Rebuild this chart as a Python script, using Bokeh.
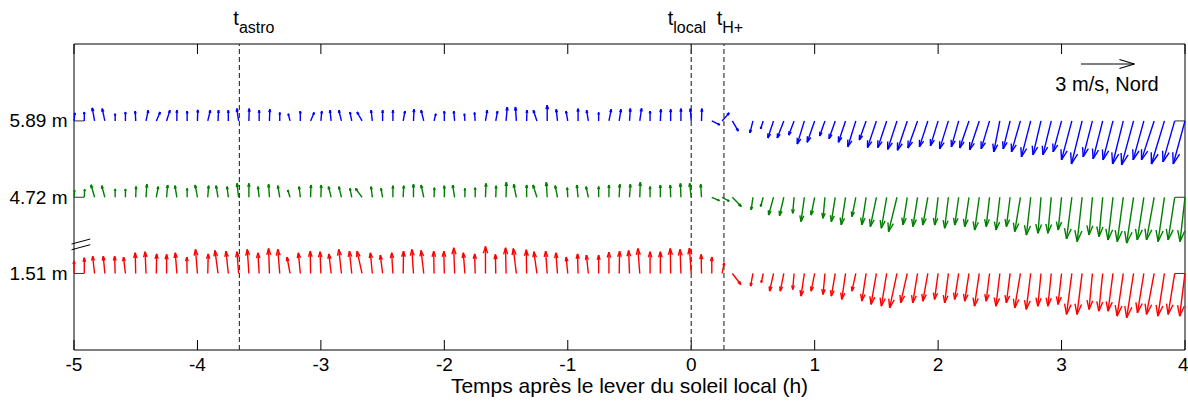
import math
import numpy as np
from bokeh.plotting import figure
from bokeh.models import FixedTicker, Label, Arrow, Range1d
from bokeh.embed import file_html
from bokeh.resources import INLINE

nan = float("nan")

# ---------------- data ----------------
# sampling: every 5 minutes from -5 h to +4 h after local sunrise
minutes = np.arange(-300, 241, 5)
times = minutes / 60.0

heights = ["1.51 m", "4.72 m", "5.89 m"]
event_names = ["astro", "local", "H+"]
event_times = [-3.66, 0.0, 0.265]

# wind components (m/s): u = horizontal component, v = vertical component
blue_u = [
    0.05, 0.00, -0.13, -0.15, 0.00, 0.00, -0.03, 0.13, 0.22, 0.19,
    0.00, 0.00, 0.02, 0.15, 0.03, 0.00, -0.10, 0.02, 0.00, 0.02,
    0.00, -0.10, 0.00, 0.20, 0.05, -0.07, -0.15, -0.10, -0.28, -0.07,
    0.00, 0.00, 0.10, 0.03, -0.15, 0.10, 0.00, -0.05, -0.03, -0.04,
    0.10, 0.10, 0.07, -0.05, 0.02, -0.20, 0.00, -0.07, -0.10, 0.00,
    -0.10, 0.00, 0.13, 0.10, 0.05, 0.10, 0.00, 0.03, 0.00, 0.00,
    -0.05, 0.02, 0.45, 0.40, 0.33, nan, -0.17, -0.15, -0.32, -0.37,
    -0.30, -0.40, -0.42, -0.30, -0.35, -0.40, -0.45, -0.38, -0.50, -0.50,
    -0.52, -0.55, -0.54, -0.47, -0.43, -0.49, -0.41, -0.52, -0.54, -0.47,
    -0.34, -0.39, -0.50, -0.52, -0.45, -0.47, -0.47, -0.58, -0.60, -0.52,
    -0.54, -0.56, -0.60, -0.67, -0.60, -0.71, -0.73, -0.66, -0.66,
]
blue_v = [
    0.45, 0.50, 0.73, 0.69, 0.40, 0.50, 0.55, 0.60, 0.50, 0.60,
    0.60, 0.55, 0.62, 0.60, 0.60, 0.60, 0.69, 0.69, 0.60, 0.65,
    0.47, 0.40, 0.55, 0.47, 0.55, 0.60, 0.60, 0.50, 0.50, 0.60,
    0.60, 0.60, 0.55, 0.65, 0.60, 0.40, 0.55, 0.55, 0.40, 0.47,
    0.60, 0.55, 0.78, 0.78, 0.60, 0.60, 0.88, 0.65, 0.55, 0.69,
    0.60, 0.47, 0.65, 0.65, 0.69, 0.70, 0.55, 0.65, 0.65, 0.69,
    0.69, 0.69, -0.22, 0.45, -0.57, nan, -0.67, -0.45, -0.96, -0.96,
    -0.80, -1.30, -1.20, -0.85, -1.00, -1.20, -1.45, -1.07, -1.50, -1.50,
    -1.60, -1.65, -1.52, -1.46, -1.40, -1.57, -1.46, -1.52, -1.63, -1.57,
    -1.74, -1.57, -1.74, -2.02, -1.91, -1.91, -1.74, -2.19, -2.42, -2.02,
    -2.13, -2.19, -2.42, -2.47, -2.19, -2.19, -2.42, -2.30, -2.42,
]
green_u = [
    0.03, 0.02, -0.20, -0.18, 0.00, 0.00, 0.02, 0.05, 0.11, 0.06,
    -0.11, 0.00, -0.13, 0.05, -0.11, -0.07, -0.09, 0.00, -0.07, -0.05,
    -0.11, -0.13, -0.07, 0.02, 0.02, -0.15, -0.15, -0.10, -0.37, -0.07,
    -0.09, 0.00, 0.03, 0.00, -0.15, 0.02, 0.00, -0.11, 0.00, 0.00,
    0.03, 0.02, 0.02, -0.15, 0.00, -0.22, -0.05, -0.13, -0.03, -0.07,
    -0.13, 0.00, 0.00, 0.03, 0.05, 0.03, 0.00, 0.00, -0.02, -0.03,
    -0.09, -0.05, 0.43, 0.40, 0.50, nan, -0.10, -0.15, -0.28, -0.24,
    -0.08, -0.19, -0.20, -0.11, -0.22, -0.24, -0.22, -0.24, -0.34, -0.30,
    -0.47, -0.24, -0.26, -0.28, -0.19, -0.21, -0.22, -0.24, -0.26, -0.19,
    -0.21, -0.21, -0.32, -0.24, -0.17, -0.19, -0.19, -0.30, -0.28, -0.19,
    -0.21, -0.28, -0.34, -0.39, -0.37, -0.43, -0.36, -0.37, -0.28,
]
green_v = [
    0.40, 0.45, 0.70, 0.65, 0.47, 0.47, 0.60, 0.73, 0.60, 0.69,
    0.65, 0.50, 0.69, 0.65, 0.65, 0.60, 0.78, 0.78, 0.60, 0.73,
    0.65, 0.41, 0.60, 0.69, 0.69, 0.60, 0.60, 0.50, 0.50, 0.60,
    0.50, 0.65, 0.65, 0.73, 0.69, 0.54, 0.65, 0.69, 0.50, 0.54,
    0.78, 0.65, 0.84, 0.73, 0.69, 0.69, 0.84, 0.65, 0.54, 0.69,
    0.60, 0.60, 0.69, 0.73, 0.73, 0.84, 0.60, 0.69, 0.69, 0.78,
    0.78, 0.73, -0.19, -0.22, -0.52, nan, -0.71, -0.52, -1.00, -1.03,
    -0.90, -1.37, -1.00, -1.18, -1.37, -1.55, -1.09, -1.55, -1.65, -1.74,
    -1.93, -1.55, -1.65, -1.56, -1.56, -1.74, -1.56, -1.65, -1.84, -1.65,
    -1.84, -1.65, -1.93, -2.12, -2.02, -2.02, -1.84, -2.34, -2.49, -2.12,
    -2.21, -2.40, -2.49, -2.58, -2.40, -2.40, -2.49, -2.40, -2.49,
]
red_u = [
    0.00, 0.00, -0.11, -0.09, -0.03, -0.11, -0.03, -0.05, 0.02, 0.00,
    -0.09, -0.02, -0.11, 0.03, -0.17, -0.13, -0.09, -0.09, -0.07, -0.05,
    -0.11, -0.17, -0.11, -0.02, -0.05, -0.13, -0.15, -0.13, -0.28, -0.11,
    -0.13, -0.07, 0.02, -0.09, -0.15, -0.02, -0.03, -0.05, -0.09, -0.03,
    0.00, -0.02, -0.03, -0.17, -0.02, -0.17, -0.09, -0.09, -0.09, -0.03,
    -0.11, 0.00, 0.00, 0.02, -0.05, -0.11, 0.00, 0.00, -0.02, -0.05,
    -0.10, -0.02, 0.00, 0.12, 0.47, nan, -0.13, -0.11, -0.22, -0.20,
    -0.08, -0.19, -0.20, -0.11, -0.22, -0.21, -0.22, -0.24, -0.30, -0.30,
    -0.41, -0.37, -0.27, -0.28, -0.20, -0.21, -0.23, -0.24, -0.27, -0.19,
    -0.22, -0.21, -0.32, -0.25, -0.18, -0.19, -0.20, -0.30, -0.29, -0.19,
    -0.22, -0.28, -0.35, -0.39, -0.36, -0.43, -0.37, -0.37, -0.30,
]
red_v = [
    0.70, 0.88, 0.97, 0.97, 0.97, 0.92, 1.16, 1.22, 1.10, 1.07,
    1.16, 0.92, 1.35, 1.10, 1.29, 1.25, 1.22, 1.35, 1.16, 1.40,
    1.35, 0.92, 1.16, 1.25, 1.22, 1.10, 1.35, 1.25, 1.25, 1.16,
    1.03, 1.16, 1.25, 1.35, 1.29, 1.25, 1.25, 1.44, 1.16, 1.10,
    1.52, 1.07, 1.44, 1.40, 1.33, 1.22, 1.25, 1.16, 0.92, 1.10,
    1.03, 1.03, 1.20, 1.25, 1.29, 1.40, 1.22, 1.22, 1.40, 1.35,
    1.43, 1.07, 0.92, 0.60, -0.62, nan, -0.71, -0.52, -0.99, -0.99,
    -0.90, -1.27, -0.99, -1.18, -1.27, -1.46, -0.99, -1.55, -1.74, -1.84,
    -1.93, -1.65, -1.65, -1.56, -1.46, -1.65, -1.46, -1.56, -1.84, -1.56,
    -1.84, -1.65, -1.93, -2.02, -1.84, -1.84, -1.74, -2.30, -2.30, -2.02,
    -2.12, -2.12, -2.40, -2.49, -2.21, -2.30, -2.40, -2.30, -2.40,
]
legend_speed = 3.0

# ---------------- layout ----------------
X0, X1 = -5.0, 4.0
BOX_W, BOX_H = 1111, 306            # pixel size of the axes box
PAD = 2.5                            # frame padding around the box (px)
TOP_SPACE = 41.5                     # room above the box for the event labels
PX_PER_H = BOX_W / (X1 - X0)
PX_PER_MS = 17.8                     # arrow scale (pixels per m/s)
BOX_TOP = BOX_H / PX_PER_MS          # y axis measured in "m/s" units
SX = PX_PER_MS / PX_PER_H            # hours per m/s horizontally
LEVEL_Y = [4.30, 8.58, 12.87]        # baselines of the three heights
FONT = "Liberation Sans"
TICK = 10                            # tick length (px)

p = figure(frame_width=int(BOX_W + 2 * PAD),
           frame_height=int(BOX_H + PAD + TOP_SPACE),
           x_range=Range1d(X0 - PAD / PX_PER_H, X1 + PAD / PX_PER_H),
           y_range=Range1d(-PAD / PX_PER_MS, BOX_TOP + TOP_SPACE / PX_PER_MS),
           output_backend="svg", toolbar_location=None,
           min_border_left=71, min_border_right=1,
           min_border_top=2, min_border_bottom=40)
p.xgrid.visible = False
p.ygrid.visible = False
p.outline_line_color = None
p.background_fill_color = "white"
p.border_fill_color = "white"

xticks = [-5, -4, -3, -2, -1, 0, 1, 2, 3, 4]

def label_axis(ax):
    ax.major_tick_in = 0
    ax.major_tick_out = 0
    ax.major_tick_line_color = None
    ax.minor_tick_line_color = None
    ax.axis_line_color = None
    ax.major_label_text_font = FONT
    ax.major_label_text_font_size = "19px"
    ax.major_label_text_color = "black"

xa = p.xaxis[0]
xa.ticker = FixedTicker(ticks=xticks)
label_axis(xa)
xa.major_label_overrides = {t: str(t) for t in xticks}
xa.major_label_standoff = 5
xa.axis_label = "Temps après le lever du soleil local (h)"
xa.axis_label_text_font = FONT
xa.axis_label_text_font_size = "21px"
xa.axis_label_text_font_style = "normal"
xa.axis_label_text_color = "black"
xa.axis_label_standoff = 0

ya = p.yaxis[0]
ya.ticker = FixedTicker(ticks=LEVEL_Y)
label_axis(ya)
ya.major_label_overrides = {y: h for y, h in zip(LEVEL_Y, heights)}
ya.major_label_standoff = 4

# axes box
p.segment(x0=[X0, X0, X0, X1], y0=[0, BOX_TOP, 0, 0],
          x1=[X1, X1, X0, X1], y1=[0, BOX_TOP, BOX_TOP, BOX_TOP],
          line_color="black", line_width=1)

# inward ticks on all four sides
ty = TICK / PX_PER_MS
tx = TICK / PX_PER_H
p.segment(x0=xticks, y0=[0] * len(xticks), x1=xticks, y1=[ty] * len(xticks),
          line_color="black", line_width=1)
p.segment(x0=xticks, y0=[BOX_TOP] * len(xticks), x1=xticks,
          y1=[BOX_TOP - ty] * len(xticks), line_color="black", line_width=1)
p.segment(x0=[X0] * 3, y0=LEVEL_Y, x1=[X0 + tx] * 3, y1=LEVEL_Y,
          line_color="#333333", line_width=1)
p.segment(x0=[X1] * 3, y0=LEVEL_Y, x1=[X1 - tx] * 3, y1=LEVEL_Y,
          line_color="#333333", line_width=1)

# event lines
p.segment(x0=event_times, y0=[0] * 3, x1=event_times, y1=[BOX_TOP] * 3,
          line_color="#3a3a3a", line_width=1.2, line_dash="5 3")

# event labels ("t" with subscript)
t_base_y = BOX_TOP + 26.5 / PX_PER_MS
sub_base_y = BOX_TOP + 17.0 / PX_PER_MS
label_dx = [-0.5, -18.0, -1.7]
for name, et, dx in zip(event_names, event_times, label_dx):
    p.add_layout(Label(x=et, y=t_base_y, x_offset=dx, text="t", text_align="right",
                       text_baseline="alphabetic", text_font=FONT,
                       text_font_size="20px", text_color="black"))
    p.add_layout(Label(x=et, y=sub_base_y, x_offset=dx, text=name, text_align="left",
                       text_baseline="alphabetic", text_font=FONT,
                       text_font_size="16px", text_color="black"))

# arrows (quiver style)
def quiver(t, u, v, y0, a=0.25, b=0.08):
    xs0, ys0, xs1, ys1 = [], [], [], []
    for ti, ui, vi in zip(t, u, v):
        if math.isnan(ui) or math.isnan(vi):
            continue
        tx_, ty_ = ti + ui * SX, y0 + vi
        xs0.append(ti); ys0.append(y0); xs1.append(tx_); ys1.append(ty_)
        for s in (1, -1):
            hx = ui - a * ui - s * b * vi
            hy = vi - a * vi + s * b * ui
            xs0.append(ti + hx * SX); ys0.append(y0 + hy)
            xs1.append(tx_); ys1.append(ty_)
    return xs0, ys0, xs1, ys1

series = [(red_u, red_v, "#ff0000"), (green_u, green_v, "#008000"),
          (blue_u, blue_v, "#0000ff")]
for (u, v, col), lev in zip(series, LEVEL_Y):
    x0s, y0s, x1s, y1s = quiver(times, u, v, lev)
    p.segment(x0=x0s, y0=y0s, x1=x1s, y1=y1s, line_color=col, line_width=1.4)

# legend arrow
LEG_X = X0 + (1080 - 73) / PX_PER_H
LEG_Y = (350 - 64) / PX_PER_MS
x0s, y0s, x1s, y1s = quiver([LEG_X], [legend_speed], [0.0], LEG_Y, a=0.28, b=0.085)
p.segment(x0=x0s, y0=y0s, x1=x1s, y1=y1s, line_color="black", line_width=1.2)
p.add_layout(Label(x=X0 + (1106 - 73) / PX_PER_H, y=(350 - 84) / PX_PER_MS,
                   text="%g m/s, Nord" % legend_speed, text_align="center",
                   text_baseline="alphabetic", text_font=FONT,
                   text_font_size="20px", text_color="black"))

# axis break mark on the left axis
bx0 = X0 - 9.7 / PX_PER_H
bx1 = X0 + 16.3 / PX_PER_H
for dy in (0.0, 5.7):
    ys = (350 - 246 - dy) / PX_PER_MS
    ye = (350 - 239 - dy) / PX_PER_MS
    p.add_layout(Arrow(end=None, x_start=bx0, y_start=ys, x_end=bx1, y_end=ye,
                       line_color="black", line_width=1))

open("out.html", "w").write(file_html(p, INLINE))
